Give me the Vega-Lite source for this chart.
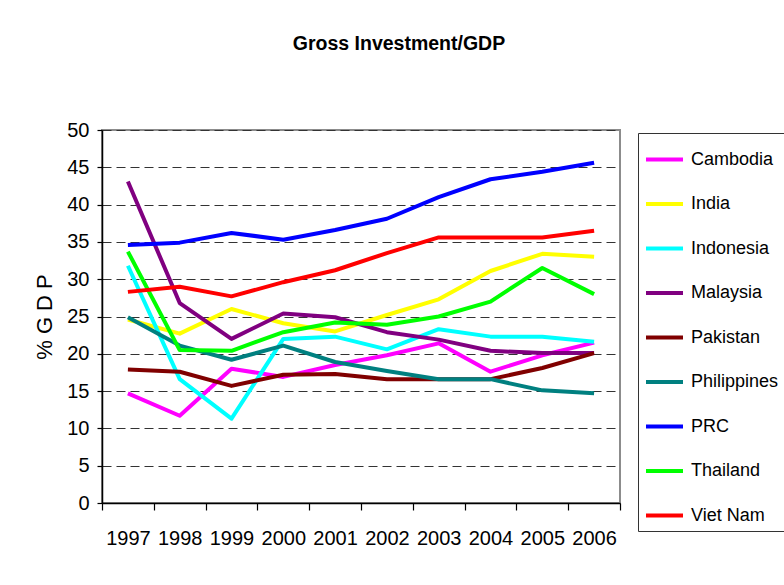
{
  "$schema": "https://vega.github.io/schema/vega-lite/v6.json",
  "autosize": {"type": "none"},
  "width": 518,
  "height": 373,
  "padding": {"left": 102, "top": 130, "right": 164, "bottom": 82},
  "background": "white",
  "title": {
    "text": "Gross Investment/GDP",
    "font": "Liberation Sans",
    "fontSize": 19.5,
    "fontWeight": "bold",
    "color": "#000000",
    "anchor": "middle",
    "frame": "group",
    "dx": 38,
    "offset": 66
  },
  "config": {
    "font": "Liberation Sans",
    "view": {"stroke": "#8c8c8c", "strokeWidth": 2},
    "axis": {
      "labelFont": "Liberation Sans",
      "titleFont": "Liberation Sans",
      "labelColor": "#000000",
      "titleColor": "#000000",
      "domainColor": "#000000",
      "tickColor": "#000000",
      "domainWidth": 1.5,
      "tickWidth": 1.2
    }
  },
  "data": {
    "values": [
      {"country": "Cambodia", "year": "1997", "value": 14.7},
      {"country": "Cambodia", "year": "1998", "value": 11.7},
      {"country": "Cambodia", "year": "1999", "value": 18.0},
      {"country": "Cambodia", "year": "2000", "value": 16.9},
      {"country": "Cambodia", "year": "2001", "value": 18.5},
      {"country": "Cambodia", "year": "2002", "value": 19.8},
      {"country": "Cambodia", "year": "2003", "value": 21.4},
      {"country": "Cambodia", "year": "2004", "value": 17.6},
      {"country": "Cambodia", "year": "2005", "value": 19.8},
      {"country": "Cambodia", "year": "2006", "value": 21.5},
      {"country": "India", "year": "1997", "value": 24.6},
      {"country": "India", "year": "1998", "value": 22.7},
      {"country": "India", "year": "1999", "value": 26.0},
      {"country": "India", "year": "2000", "value": 24.1},
      {"country": "India", "year": "2001", "value": 23.0},
      {"country": "India", "year": "2002", "value": 25.2},
      {"country": "India", "year": "2003", "value": 27.3},
      {"country": "India", "year": "2004", "value": 31.1},
      {"country": "India", "year": "2005", "value": 33.4},
      {"country": "India", "year": "2006", "value": 33.0},
      {"country": "Indonesia", "year": "1997", "value": 31.8},
      {"country": "Indonesia", "year": "1998", "value": 16.6},
      {"country": "Indonesia", "year": "1999", "value": 11.3},
      {"country": "Indonesia", "year": "2000", "value": 22.0},
      {"country": "Indonesia", "year": "2001", "value": 22.3},
      {"country": "Indonesia", "year": "2002", "value": 20.6},
      {"country": "Indonesia", "year": "2003", "value": 23.3},
      {"country": "Indonesia", "year": "2004", "value": 22.3},
      {"country": "Indonesia", "year": "2005", "value": 22.3},
      {"country": "Indonesia", "year": "2006", "value": 21.6},
      {"country": "Malaysia", "year": "1997", "value": 43.1},
      {"country": "Malaysia", "year": "1998", "value": 26.8},
      {"country": "Malaysia", "year": "1999", "value": 22.0},
      {"country": "Malaysia", "year": "2000", "value": 25.4},
      {"country": "Malaysia", "year": "2001", "value": 24.9},
      {"country": "Malaysia", "year": "2002", "value": 22.9},
      {"country": "Malaysia", "year": "2003", "value": 21.9},
      {"country": "Malaysia", "year": "2004", "value": 20.4},
      {"country": "Malaysia", "year": "2005", "value": 20.1},
      {"country": "Malaysia", "year": "2006", "value": 20.1},
      {"country": "Pakistan", "year": "1997", "value": 17.9},
      {"country": "Pakistan", "year": "1998", "value": 17.6},
      {"country": "Pakistan", "year": "1999", "value": 15.7},
      {"country": "Pakistan", "year": "2000", "value": 17.2},
      {"country": "Pakistan", "year": "2001", "value": 17.3},
      {"country": "Pakistan", "year": "2002", "value": 16.6},
      {"country": "Pakistan", "year": "2003", "value": 16.6},
      {"country": "Pakistan", "year": "2004", "value": 16.6},
      {"country": "Pakistan", "year": "2005", "value": 18.1},
      {"country": "Pakistan", "year": "2006", "value": 20.1},
      {"country": "Philippines", "year": "1997", "value": 24.9},
      {"country": "Philippines", "year": "1998", "value": 21.1},
      {"country": "Philippines", "year": "1999", "value": 19.2},
      {"country": "Philippines", "year": "2000", "value": 21.1},
      {"country": "Philippines", "year": "2001", "value": 18.9},
      {"country": "Philippines", "year": "2002", "value": 17.7},
      {"country": "Philippines", "year": "2003", "value": 16.6},
      {"country": "Philippines", "year": "2004", "value": 16.6},
      {"country": "Philippines", "year": "2005", "value": 15.1},
      {"country": "Philippines", "year": "2006", "value": 14.7},
      {"country": "PRC", "year": "1997", "value": 34.6},
      {"country": "PRC", "year": "1998", "value": 34.9},
      {"country": "PRC", "year": "1999", "value": 36.2},
      {"country": "PRC", "year": "2000", "value": 35.3},
      {"country": "PRC", "year": "2001", "value": 36.6},
      {"country": "PRC", "year": "2002", "value": 38.1},
      {"country": "PRC", "year": "2003", "value": 41.0},
      {"country": "PRC", "year": "2004", "value": 43.4},
      {"country": "PRC", "year": "2005", "value": 44.4},
      {"country": "PRC", "year": "2006", "value": 45.6},
      {"country": "Thailand", "year": "1997", "value": 33.7},
      {"country": "Thailand", "year": "1998", "value": 20.5},
      {"country": "Thailand", "year": "1999", "value": 20.4},
      {"country": "Thailand", "year": "2000", "value": 22.9},
      {"country": "Thailand", "year": "2001", "value": 24.2},
      {"country": "Thailand", "year": "2002", "value": 23.9},
      {"country": "Thailand", "year": "2003", "value": 25.0},
      {"country": "Thailand", "year": "2004", "value": 27.0},
      {"country": "Thailand", "year": "2005", "value": 31.5},
      {"country": "Thailand", "year": "2006", "value": 28.0},
      {"country": "Viet Nam", "year": "1997", "value": 28.3},
      {"country": "Viet Nam", "year": "1998", "value": 29.0},
      {"country": "Viet Nam", "year": "1999", "value": 27.7},
      {"country": "Viet Nam", "year": "2000", "value": 29.6},
      {"country": "Viet Nam", "year": "2001", "value": 31.2},
      {"country": "Viet Nam", "year": "2002", "value": 33.5},
      {"country": "Viet Nam", "year": "2003", "value": 35.6},
      {"country": "Viet Nam", "year": "2004", "value": 35.6},
      {"country": "Viet Nam", "year": "2005", "value": 35.6},
      {"country": "Viet Nam", "year": "2006", "value": 36.5}
    ]
  },
  "mark": {"type": "line", "strokeWidth": 4, "strokeJoin": "round"},
  "encoding": {
    "x": {
      "field": "year",
      "type": "ordinal",
      "scale": {"type": "band", "paddingInner": 0, "paddingOuter": 0},
      "axis": {
        "title": null,
        "labelAngle": 0,
        "labelFontSize": 20,
        "tickBand": "extent",
        "tickSize": 7,
        "labelPadding": 18,
        "grid": false
      }
    },
    "y": {
      "field": "value",
      "type": "quantitative",
      "scale": {"domain": [0, 50], "nice": false},
      "axis": {
        "title": "% G D P",
        "titleFontSize": 22,
        "titleFontWeight": "normal",
        "titlePadding": 10,
        "values": [0, 5, 10, 15, 20, 25, 30, 35, 40, 45, 50],
        "labelFontSize": 20,
        "tickSize": 5,
        "labelPadding": 8,
        "grid": true,
        "gridColor": "#333333",
        "gridDash": [9, 5],
        "gridWidth": 1.2
      }
    },
    "color": {
      "field": "country",
      "type": "nominal",
      "scale": {
        "domain": ["Cambodia", "India", "Indonesia", "Malaysia", "Pakistan", "Philippines", "PRC", "Thailand", "Viet Nam"],
        "range": ["#ff00ff", "#ffff00", "#00ffff", "#800080", "#800000", "#008080", "#0000ff", "#00ff00", "#ff0000"]
      },
      "legend": {
        "title": null,
        "orient": "none",
        "legendX": 536,
        "legendY": 3,
        "symbolType": "stroke",
        "symbolSize": 1369,
        "symbolStrokeWidth": 4,
        "labelFontSize": 18,
        "labelFont": "Liberation Sans",
        "labelColor": "#000000",
        "labelOffset": 6,
        "labelLimit": 200,
        "rowPadding": 14.5,
        "padding": 6,
        "fillColor": "white",
        "strokeColor": "#333333"
      }
    }
  }
}
